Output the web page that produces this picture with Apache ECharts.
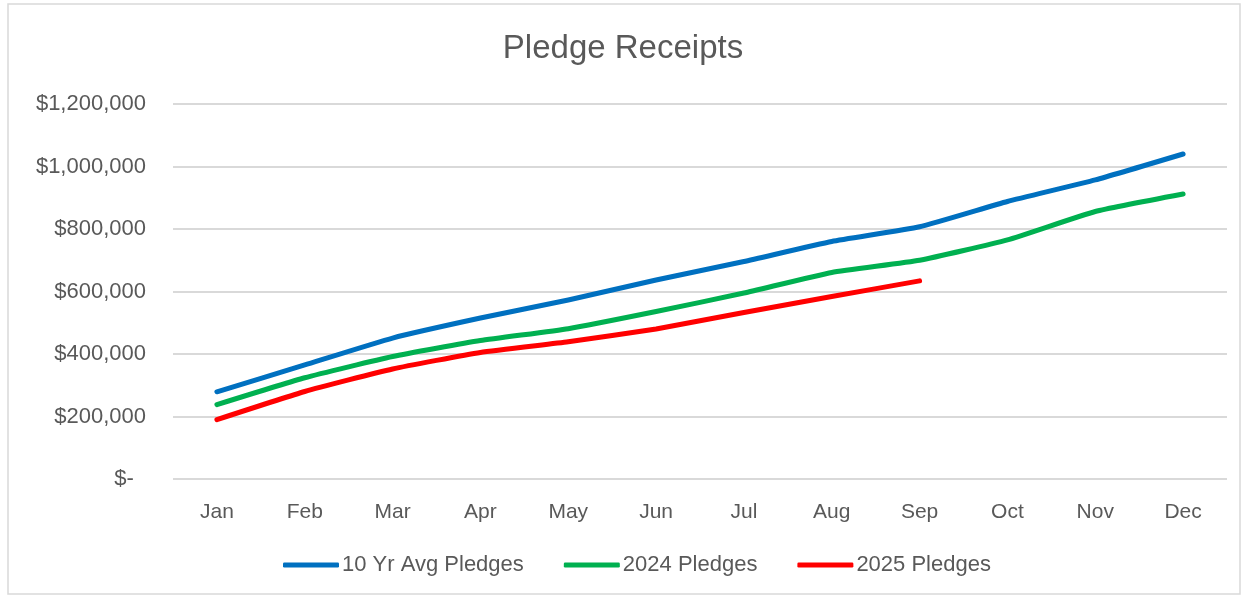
<!DOCTYPE html>
<html>
<head>
<meta charset="utf-8">
<script src="https://cdn.jsdelivr.net/npm/echarts@6/dist/echarts.min.js"></script>
<style>html,body{margin:0;padding:0;background:#fff;}#c{width:1246px;height:598px;}</style>
</head>
<body>
<div id="c"></div>
<script>
const months = ['Jan','Feb','Mar','Apr','May','Jun','Jul','Aug','Sep','Oct','Nov','Dec'];
const avg10 = [279000,365000,451000,515000,573000,637000,696000,760000,807000,888000,957000,1040000];
const p2024 = [238000,324000,392000,443000,481000,536000,595000,661000,700000,765000,856000,912000];
const p2025 = [190000,280000,352000,405000,439000,480000,533000,584000,634000];
const seriesNames = ['10 Yr Avg Pledges','2024 Pledges','2025 Pledges'];
const colors = ['#0070C0','#00B050','#FF0000'];

const chart = echarts.init(document.getElementById('c'));
function line(name, data, color){
  return {name, type:'line', data, symbol:'none', smooth:0.15,
    lineStyle:{color, width:5, cap:'round', join:'round'}, itemStyle:{color}};
}
chart.setOption({
  animation:false,
  graphic:[{type:'rect', shape:{x:8,y:4,width:1232,height:590}, style:{fill:'none', stroke:'#D9D9D9', lineWidth:1.5}, z:-1}],
  title:{text:'Pledge Receipts', left:'center', top:27,
    textStyle:{fontFamily:'Liberation Sans, Arial, sans-serif', fontSize:33, fontWeight:'normal', color:'#595959'}},
  grid:{left:173, right:19, top:104, bottom:119, containLabel:false},
  legend:{bottom:17, left:278, itemWidth:56, itemHeight:5, itemGap:40, icon:'roundRect',
    textStyle:{fontFamily:'Liberation Sans, Arial, sans-serif', fontSize:22, color:'#595959', padding:[0,0,0,-2]},
    data:seriesNames},
  xAxis:{type:'category', data:months, boundaryGap:true,
    axisLine:{show:false}, axisTick:{show:false},
    axisLabel:{fontFamily:'Liberation Sans, Arial, sans-serif', fontSize:21, color:'#595959', margin:23}},
  yAxis:{type:'value', min:0, max:1200000, interval:200000,
    axisLine:{show:false}, axisTick:{show:false},
    splitLine:{lineStyle:{color:'#D9D9D9', width:2}},
    axisLabel:{fontFamily:'Liberation Sans, Arial, sans-serif', fontSize:22, color:'#595959', margin:27,
      formatter:v => v===0 ? '$-  ' : '$' + v.toLocaleString('en-US')}},
  series:[line(seriesNames[0], avg10, colors[0]), line(seriesNames[1], p2024, colors[1]), line(seriesNames[2], p2025, colors[2])]
});
</script>
</body>
</html>
